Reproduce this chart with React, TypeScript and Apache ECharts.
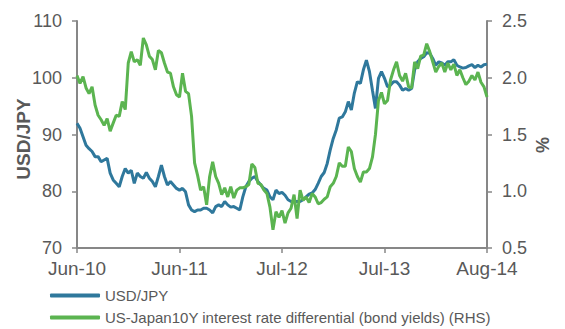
import React, { useEffect, useRef } from "react";
import * as echarts from "echarts";

const tickLabels = ["Jun-10", "Jun-11", "Jul-12", "Jul-13", "Aug-14"];
const labelStep = 34;

const usdJpy = [
  92.0, 91.1, 89.6, 88.1, 87.5, 87.0, 86.1, 86.1, 85.2, 85.5,
  85.8, 83.2, 82.0, 81.4, 80.8, 82.6, 84.0, 83.2, 83.7, 81.4,
  83.2, 82.6, 82.3, 83.3, 82.3, 81.7, 80.8, 82.6, 84.6, 82.6,
  81.1, 81.7, 81.1, 80.5, 80.2, 80.5, 79.9, 77.6, 76.7, 76.4,
  76.7, 76.7, 77.0, 77.0, 76.7, 76.2, 77.3, 77.6, 77.3, 78.2,
  77.6, 77.2, 77.3, 77.0, 76.7, 79.0, 80.8, 81.7, 82.3, 82.6,
  81.7, 81.1, 80.5, 80.2, 79.0, 78.5, 80.2, 79.6, 79.8, 79.3,
  78.5, 78.2, 78.2, 78.2, 78.2, 78.5, 79.0, 79.5, 79.7, 80.3,
  81.4, 82.6, 83.3, 84.9, 87.3, 89.3, 90.8, 92.9, 93.1, 94.0,
  95.8, 94.3, 97.3, 99.3, 99.0, 101.4, 103.1, 101.1, 97.8, 94.6,
  99.9, 101.1, 99.9, 98.4, 98.7, 99.3, 99.3, 98.7, 97.8, 98.1,
  97.8, 98.1, 101.4, 102.8, 103.4, 103.7, 104.4, 104.3, 103.4, 102.2,
  102.8, 102.6, 102.2, 102.8, 102.8, 103.2, 102.2, 101.9, 101.7, 101.8,
  102.1, 102.3, 101.8, 102.2, 101.9, 102.3, 102.4,
];

const rateDiff = [
  2.02, 1.95, 2.01, 1.91, 1.86, 1.92, 1.76, 1.67, 1.63, 1.58,
  1.64, 1.53, 1.60, 1.67, 1.66, 1.79, 1.72, 2.13, 2.23, 2.14,
  2.16, 2.11, 2.35, 2.29, 2.19, 2.16, 2.07, 2.24, 2.22, 2.13,
  2.05, 2.04, 1.92, 1.85, 1.83, 2.04, 1.88, 1.86, 1.66, 1.25,
  1.14, 1.01, 1.04, 0.88, 1.13, 1.26, 1.13, 1.07, 0.97, 1.03,
  0.95, 1.04, 0.94, 1.01, 1.03, 1.03, 1.04, 1.06, 1.24, 1.21,
  1.07, 1.06, 1.01, 0.98, 0.86, 0.66, 0.82, 0.77, 0.83, 0.72,
  0.81, 0.85, 0.97, 0.76, 1.01, 0.92, 0.95, 0.90, 0.98, 0.95,
  0.89, 0.90, 0.93, 0.95, 1.04, 1.07, 1.13, 1.25, 1.22, 1.22,
  1.39, 1.35, 1.20, 1.13, 1.08, 1.17, 1.17, 1.20, 1.30, 1.50,
  1.80, 1.87, 1.77, 1.80, 1.98, 2.07, 2.14, 2.02, 1.97, 2.04,
  1.92, 1.91, 2.14, 2.08, 2.19, 2.20, 2.30, 2.23, 2.14, 2.05,
  2.10, 2.13, 2.05, 2.13, 2.07, 2.12, 2.02, 2.07, 2.00, 1.94,
  1.97, 2.02, 1.98, 2.05, 1.96, 1.92, 1.83,
];

// observation dates (roughly weekly, Jun-2010 .. Aug-2014)
const categories = usdJpy.map((_, i) => {
  const d = new Date(Date.UTC(2010, 5, 4) + Math.round(i * (1520 / 136)) * 86400000);
  return d.toISOString().slice(0, 10);
});

const seriesNames = [
  "USD/JPY",
  "US-Japan10Y interest rate differential (bond yields) (RHS)",
];

const BLUE = "#2F789C";
const GREEN = "#5BB450";
const AXIS = "#878787";
const TEXT = "#595959";
const FONT = "Liberation Sans, Arial, sans-serif";

const legendBase = {
  orient: "horizontal",
  left: 50,
  padding: 0,
  itemWidth: 50,
  itemHeight: 4,
  itemGap: 5,
  icon: "roundRect",
  textStyle: { color: TEXT, fontSize: 15, fontFamily: FONT },
};

export default function App() {
  const ref = useRef<HTMLDivElement>(null);
  useEffect(() => {
    if (!ref.current) return;
    const chart = echarts.init(ref.current, null, { renderer: "svg" });
    chart.setOption({
      animation: false,
      textStyle: { fontFamily: FONT },
      grid: {
        left: 77,
        right: 78,
        top: 21,
        bottom: 81,
        containLabel: false,
        outerBoundsMode: "none",
      },
      legend: [
        { ...legendBase, top: 288, data: [seriesNames[0]] },
        { ...legendBase, top: 310, data: [seriesNames[1]] },
      ],
      xAxis: {
        type: "category",
        data: categories,
        boundaryGap: false,
        axisLine: { lineStyle: { color: AXIS, width: 2 } },
        axisTick: { show: true, interval: labelStep - 1, length: 5, lineStyle: { color: AXIS, width: 1.5 } },
        axisLabel: {
          interval: labelStep - 1,
          color: TEXT,
          fontSize: 19,
          margin: 11,
          formatter: (_v: string, idx: number) => tickLabels[Math.round(idx / labelStep)] ?? "",
        },
        splitLine: { show: false },
      },
      yAxis: [
        {
          type: "value",
          min: 70,
          max: 110,
          interval: 10,
          name: "USD/JPY",
          nameLocation: "middle",
          nameRotate: 90,
          nameGap: 44,
          nameMoveOverlap: false,
          nameTextStyle: { color: TEXT, fontSize: 19, fontWeight: "bold", fontFamily: FONT, padding: [0, 9, 0, 0] },
          axisLine: { show: true, lineStyle: { color: AXIS, width: 2 } },
          axisTick: { show: true, length: 5, lineStyle: { color: AXIS, width: 1.5 } },
          axisLabel: { color: TEXT, fontSize: 18, margin: 15 },
          splitLine: { show: false },
        },
        {
          type: "value",
          min: 0.5,
          max: 2.5,
          interval: 0.5,
          position: "right",
          name: "%",
          nameLocation: "middle",
          nameRotate: 90,
          nameGap: 47,
          nameMoveOverlap: false,
          nameTextStyle: { color: TEXT, fontSize: 18, fontWeight: "bold", fontFamily: FONT, padding: [0, 21, 0, 0] },
          axisLine: { show: true, lineStyle: { color: AXIS, width: 2 } },
          axisTick: { show: true, length: 5, lineStyle: { color: AXIS, width: 1.5 } },
          axisLabel: { color: TEXT, fontSize: 18, margin: 15, formatter: (v: number) => v.toFixed(1) },
          splitLine: { show: false },
        },
      ],
      series: [
        {
          name: seriesNames[0],
          type: "line",
          yAxisIndex: 0,
          data: usdJpy,
          showSymbol: false,
          symbol: "none",
          lineStyle: { color: BLUE, width: 3 },
          itemStyle: { color: BLUE },
          z: 2,
        },
        {
          name: seriesNames[1],
          type: "line",
          yAxisIndex: 1,
          data: rateDiff,
          showSymbol: false,
          symbol: "none",
          lineStyle: { color: GREEN, width: 3 },
          itemStyle: { color: GREEN },
          z: 3,
        },
      ],
    });
    return () => chart.dispose();
  }, []);
  return (
    <div
      ref={ref}
      style={{ position: "fixed", left: 0, top: 0, width: 565, height: 329, background: "#fff" }}
    />
  );
}
